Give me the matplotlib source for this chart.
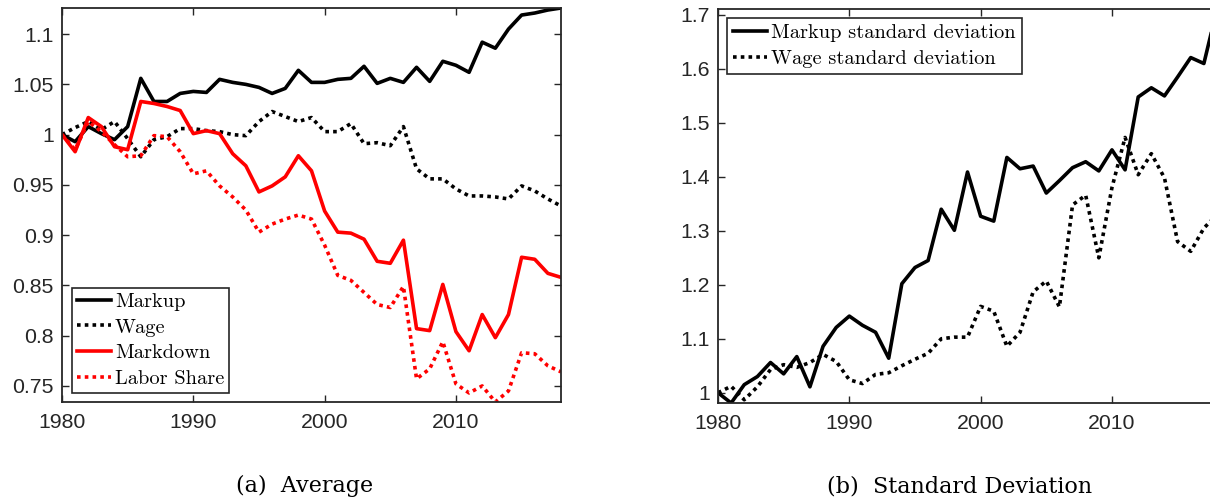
import matplotlib
matplotlib.use("Agg")
import matplotlib.pyplot as plt
import numpy as np
from matplotlib.ticker import FuncFormatter

years = list(range(1980, 2019))

markup = [1.000, 0.993, 1.008, 1.001, 0.995, 1.008, 1.056, 1.033, 1.033, 1.041,
          1.043, 1.042, 1.055, 1.052, 1.050, 1.047, 1.041, 1.046, 1.064, 1.052,
          1.052, 1.055, 1.056, 1.068, 1.051, 1.056, 1.052, 1.067, 1.053, 1.073,
          1.069, 1.062, 1.092, 1.086, 1.105, 1.119, 1.121, 1.124, 1.126]
wage = [1.000, 1.007, 1.013, 1.005, 1.013, 0.996, 0.978, 0.995, 0.998, 1.006,
        1.006, 1.004, 1.003, 1.000, 0.999, 1.013, 1.023, 1.018, 1.013, 1.017,
        1.003, 1.003, 1.011, 0.991, 0.992, 0.989, 1.008, 0.966, 0.956, 0.956,
        0.946, 0.939, 0.939, 0.938, 0.936, 0.949, 0.944, 0.936, 0.929]
markdown = [1.000, 0.983, 1.017, 1.008, 0.988, 0.985, 1.033, 1.031, 1.028, 1.024,
            1.001, 1.004, 1.001, 0.981, 0.969, 0.943, 0.949, 0.958, 0.979, 0.964,
            0.924, 0.903, 0.902, 0.896, 0.874, 0.872, 0.895, 0.807, 0.805, 0.851,
            0.804, 0.785, 0.821, 0.798, 0.821, 0.878, 0.876, 0.862, 0.858]
labor_share = [1.000, 0.985, 1.013, 1.003, 0.990, 0.978, 0.979, 0.999, 0.998, 0.983,
               0.961, 0.964, 0.949, 0.938, 0.925, 0.903, 0.911, 0.916, 0.920, 0.916,
               0.890, 0.860, 0.855, 0.843, 0.831, 0.828, 0.849, 0.757, 0.767, 0.794,
               0.752, 0.743, 0.750, 0.734, 0.745, 0.783, 0.782, 0.770, 0.764]

markup_sd = [1.000, 0.981, 1.015, 1.030, 1.056, 1.035, 1.067, 1.011, 1.086, 1.121,
             1.142, 1.125, 1.112, 1.064, 1.202, 1.232, 1.245, 1.340, 1.301, 1.409,
             1.327, 1.318, 1.436, 1.415, 1.420, 1.370, 1.393, 1.417, 1.428, 1.411,
             1.450, 1.413, 1.548, 1.565, 1.550, 1.585, 1.621, 1.610, 1.711]
wage_sd = [1.000, 1.012, 0.987, 1.011, 1.043, 1.052, 1.047, 1.056, 1.071, 1.058,
           1.024, 1.017, 1.034, 1.037, 1.050, 1.062, 1.073, 1.100, 1.103, 1.103,
           1.160, 1.151, 1.086, 1.112, 1.187, 1.207, 1.159, 1.348, 1.366, 1.250,
           1.380, 1.473, 1.404, 1.443, 1.398, 1.280, 1.262, 1.305, 1.330]

xticks = [1980, 1990, 2000, 2010]
yticks_a = [0.75, 0.8, 0.85, 0.9, 0.95, 1.0, 1.05, 1.1]
yticks_b = [1.0, 1.1, 1.2, 1.3, 1.4, 1.5, 1.6, 1.7]
labels_a = ["Markup", "Wage", "Markdown", "Labor Share"]
labels_b = ["Markup standard deviation", "Wage standard deviation"]
captions = ["(a)  Average", "(b)  Standard Deviation"]

AX = "#262626"
W, H = 1210, 501
fig = plt.figure(figsize=(W / 100, H / 100), dpi=100)

axA = fig.add_axes([62 / W, 1 - 402 / H, 499 / W, 394 / H])
axB = fig.add_axes([718 / W, 1 - 403 / H, 499 / W, 394 / H])

LW = 2.6
dot = (0, (1, 1.15))

axA.plot(years, markup, color="black", lw=LW, label=labels_a[0])
axA.plot(years, wage, color="black", lw=LW, ls=dot, label=labels_a[1])
axA.plot(years, markdown, color="red", lw=LW, label=labels_a[2])
axA.plot(years, labor_share, color="red", lw=LW, ls=dot, label=labels_a[3])

axB.plot(years, markup_sd, color="black", lw=LW, label=labels_b[0])
axB.plot(years, wage_sd, color="black", lw=LW, ls=dot, label=labels_b[1])

allA = markup + wage + markdown + labor_share
allB = markup_sd + wage_sd
axA.set_ylim(min(allA), max(allA))
axB.set_ylim(min(allB), max(allB))
axA.set_yticks(yticks_a)
axB.set_yticks(yticks_b)

fmt = FuncFormatter(lambda v, p: "%g" % round(v, 3))
for ax in (axA, axB):
    ax.set_xlim(years[0], years[-1])
    ax.set_xticks(xticks)
    ax.yaxis.set_major_formatter(fmt)
    for s in ax.spines.values():
        s.set_color(AX)
        s.set_linewidth(1.3)
    ax.tick_params(direction="in", length=5, width=1.0, colors=AX,
                   top=True, right=True, labelsize=15.3)
    ax.tick_params(axis="x", pad=8)
    ax.tick_params(axis="y", pad=6)
    for lab in ax.get_xticklabels() + ax.get_yticklabels():
        lab.set_fontfamily("Liberation Sans")

legA = axA.legend(loc="lower left", bbox_to_anchor=(0.02, 0.023), borderaxespad=0,
                  prop={"family": "cmr10", "size": 14.7}, frameon=True, fancybox=False,
                  handlelength=1.65, handletextpad=0.2, borderpad=0.25, labelspacing=0.36)
legB = axB.legend(loc="upper left", bbox_to_anchor=(0.018, 0.977), borderaxespad=0,
                  prop={"family": "cmr10", "size": 14.7}, frameon=True, fancybox=False,
                  handlelength=1.65, handletextpad=0.2, borderpad=0.3, labelspacing=0.34)
for leg in (legA, legB):
    fr = leg.get_frame()
    fr.set_edgecolor(AX)
    fr.set_linewidth(1.2)
    fr.set_alpha(1)

fig.text(305 / W, 9 / H, captions[0], ha="center", va="baseline",
         family="DejaVu Serif", fontsize=16, color="black")
fig.text(960 / W, 9 / H, captions[1], ha="center", va="baseline",
         family="DejaVu Serif", fontsize=16, color="black")

fig.savefig("out.png", dpi=100)
